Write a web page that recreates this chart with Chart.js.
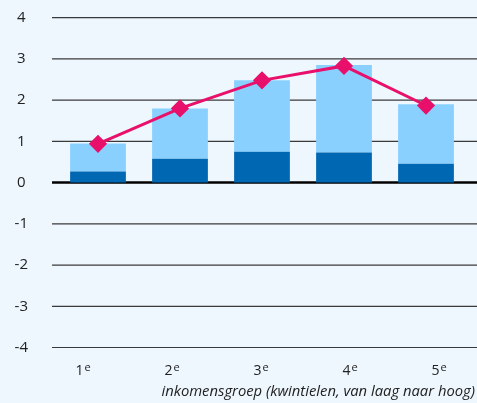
<!DOCTYPE html>
<html>
<head>
<meta charset="utf-8">
<script src="https://cdn.jsdelivr.net/npm/chart.js@4"></script>
<style>
  html, body { margin: 0; padding: 0; background: #eef7fe; }
  #wrap { width: 477px; height: 403px; }
</style>
</head>
<body>
<div id="wrap"><canvas id="chart" width="477" height="403"></canvas></div>
<script>
const categories = ["1", "2", "3", "4", "5"];
const ordinalSuffix = "e";
const darkValues = [0.27, 0.58, 0.75, 0.73, 0.46];
const lightValues = [0.68, 1.22, 1.73, 2.12, 1.44];
const lineValues = [0.94, 1.8, 2.48, 2.83, 1.87];
const yTicks = [-4, -3, -2, -1, 0, 1, 2, 3, 4];
const xTitle = "inkomensgroep (kwintielen, van laag naar hoog)";

// horizontal grid lines run wider than the bar area, so draw them here
const gridLines = {
  id: "gridLines",
  beforeDatasetsDraw(chart) {
    const ctx = chart.ctx;
    const y = chart.scales.y;
    ctx.save();
    yTicks.forEach((t) => {
      const py = y.getPixelForValue(t);
      ctx.beginPath();
      ctx.strokeStyle = t === 0 ? "#000" : "#3a3a3a";
      ctx.lineWidth = t === 0 ? 2.5 : 1.2;
      ctx.moveTo(52, py);
      ctx.lineTo(chart.width, py);
      ctx.stroke();
    });
    ctx.restore();
  },
};

// category labels with superscript "e" plus the axis title on the right
const xLabels = {
  id: "xLabels",
  afterDraw(chart) {
    const ctx = chart.ctx;
    const x = chart.scales.x;
    const base = chart.chartArea.bottom;
    ctx.save();
    ctx.fillStyle = "#222";
    ctx.textBaseline = "alphabetic";
    categories.forEach((c, i) => {
      // labels sit a bit wider apart than the bars
      const cx = x.getPixelForValue(i) + (i - 2) * 7 - 4.6;
      ctx.font = "14px 'Open Sans'";
      ctx.textAlign = "left";
      const w = ctx.measureText(c).width;
      ctx.fillText(c, cx - w / 2, base + 27);
      ctx.font = "11px 'Open Sans'";
      ctx.fillText(ordinalSuffix, cx + w / 2 + 1, base + 23);
    });
    ctx.font = "italic 14.8px 'Open Sans'";
    ctx.textAlign = "right";
    ctx.fillText(xTitle, chart.width - 2, base + 48);
    ctx.restore();
  },
};

new Chart(document.getElementById("chart"), {
  type: "bar",
  data: {
    labels: categories,
    datasets: [
      {
        type: "line",
        data: lineValues,
        stack: "line",
        borderColor: "#e8106b",
        backgroundColor: "#e8106b",
        borderWidth: 3,
        pointStyle: "rectRot",
        pointRadius: 7,
        pointHoverRadius: 7,
        order: 0,
      },
      {
        data: darkValues,
        stack: "bars",
        backgroundColor: "#0067b3",
        order: 1,
      },
      {
        data: lightValues,
        stack: "bars",
        backgroundColor: "#8ad0ff",
        order: 1,
      },
    ],
  },
  options: {
    responsive: false,
    animation: false,
    datasets: { bar: { barPercentage: 0.68, categoryPercentage: 1 } },
    layout: { padding: { top: 17.7, right: 6, left: 0, bottom: 47.5 } },
    plugins: { legend: { display: false }, tooltip: { enabled: false } },
    scales: {
      x: {
        stacked: true,
        grid: { display: false },
        border: { display: false },
        ticks: { display: false },
      },
      y: {
        stacked: true,
        min: -4,
        max: 4,
        afterFit(scale) {
          scale.width = 57;
          // tick padding would otherwise push the plot area down
          scale.paddingTop = 0;
          scale.paddingBottom = 0;
        },
        afterBuildTicks(scale) {
          scale.ticks = yTicks.map((v) => ({ value: v }));
        },
        grid: { display: false },
        border: { display: false },
        ticks: {
          color: "#222",
          crossAlign: "center",
          padding: 21,
          font: { family: "Open Sans", size: 15 },
        },
      },
    },
  },
  plugins: [gridLines, xLabels],
});
</script>
</body>
</html>
